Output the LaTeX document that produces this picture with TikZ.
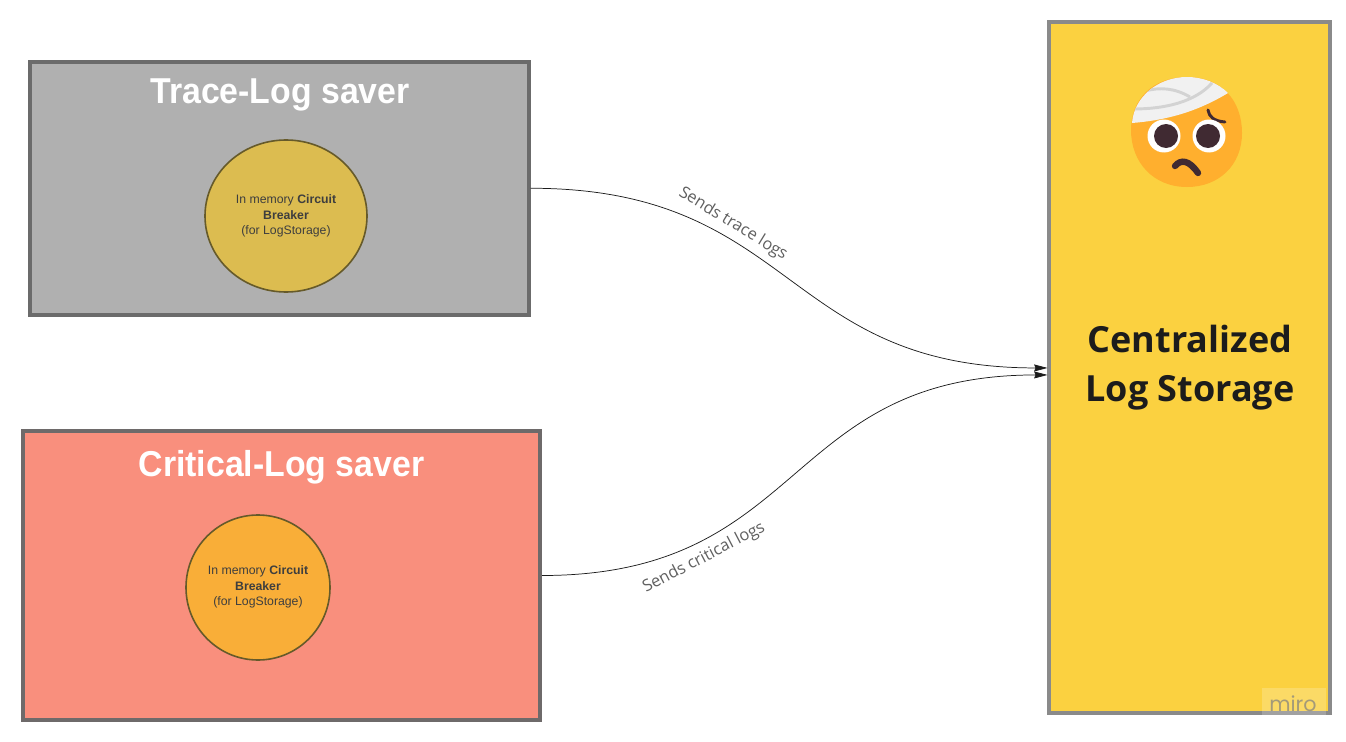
\documentclass[tikz,border=0pt]{standalone}
\usepackage{fontspec}
\setmainfont{Liberation Sans}
\newfontfamily\opensans{Open Sans}
\newfontfamily\titlefont[FakeStretch=0.94]{Liberation Sans}
\newfontfamily\wmfont{Poppins}
\usetikzlibrary{arrows.meta,calc,shapes.geometric}
\definecolor{grayfill}{HTML}{B0B0B0}
\definecolor{grayline}{HTML}{6B6B6B}
\definecolor{redfill}{HTML}{F98F7D}
\definecolor{redline}{HTML}{6E6A6A}
\definecolor{storefill}{HTML}{FBD140}
\definecolor{storeline}{HTML}{8A8A8A}
\definecolor{cbyellow}{HTML}{DCBC50}
\definecolor{cborange}{HTML}{F9AE38}
\definecolor{cbline}{HTML}{665A2A}
\definecolor{inktext}{HTML}{1C1C1C}
\definecolor{faceorange}{HTML}{FFAF2E}
\definecolor{bandage}{HTML}{F1F1F1}
\definecolor{bandline}{HTML}{D3D3D3}
\definecolor{eyedark}{HTML}{402A32}
\tikzset{
  x=0.75pt,y=-0.75pt,
  boxnode/.style={draw,rectangle,line width=3pt,inner sep=0pt},
  cbnode/.style={draw=cbline,ellipse,line width=1.2pt,inner sep=0pt,outer sep=0pt},
  boxtitle/.style={text=white,font=\titlefont\bfseries\fontsize{27}{32}\selectfont,inner sep=0pt},
  cbtext/.style={text=inktext!85,font=\fontsize{9.2}{11.6}\selectfont,align=center,inner sep=0pt},
  flow/.style={draw=inktext,line width=0.55pt,-{Stealth[length=10pt,width=5.2pt,inset=1pt]}},
  flowlabel/.style={text=inktext!70,font=\opensans\fontsize{12.3}{14}\selectfont,inner sep=0pt},
}
\begin{document}
\begin{tikzpicture}
\useasboundingbox (0,0) rectangle (1346,742);
\fill[white] (0,0) rectangle (1346,742);
\node[boxnode,draw=grayline,fill=grayfill,minimum width=374pt,minimum height=189.4pt] (trace) at (279.35,188.25) {};
\node[boxnode,draw=redline,fill=redfill,minimum width=387.75pt,minimum height=216.75pt] (critical) at (281.5,575.5) {};
\node[boxnode,draw=storeline,fill=storefill,minimum width=210.4pt,minimum height=518.5pt] (store) at (1189.75,367.35) {};
\node[boxtitle] (tracetitle) at (280,95) {Trace-Log saver};
\node[boxtitle] (crittitle) at (281.5,467) {Critical-Log saver};
\node[cbnode,fill=cbyellow,minimum width=121.5pt,minimum height=114pt] (cb1) at (286,216) {};
\node[cbtext] (cb1t) at (286,216) {In memory \textbf{Circuit}\\\textbf{Breaker}\\(for LogStorage)};
\node[cbnode,fill=cborange,minimum width=108pt,minimum height=108.75pt] (cb2) at (258,587.5) {};
\node[cbtext] (cb2t) at (258,587) {In memory \textbf{Circuit}\\\textbf{Breaker}\\(for LogStorage)};
\node[text=inktext,font=\opensans\bfseries\fontsize{27}{36.8}\selectfont,align=center,inner sep=0pt] (storetext) at (1190,368) {Centralized\\Log Storage};
\coordinate (in1) at ($(store.west)+(0,0.6)$);
\coordinate (in2) at ($(store.west)+(0,7.6)$);
\draw[flow] (trace.east) .. controls +(265,0) and +(-265,0) .. (in1);
\draw[flow] (critical.east) .. controls +(265,0) and +(-265,0) .. (in2);
\node[flowlabel,rotate=-31.5] (l1) at (733,224) {Sends trace logs};
\node[flowlabel,rotate=27.5] (l2) at (704,558) {Sends critical logs};
% emoji
\fill[faceorange] (1187,77) .. controls (1222,77) and (1242,101) .. (1242,133) .. controls (1242,165) and (1219,187) .. (1187,187) .. controls (1153,187) and (1131,162) .. (1131,130) .. controls (1131,100) and (1152,77) .. (1187,77) -- cycle;
\fill[bandage] (1132,123) .. controls (1134,97) and (1158,77) .. (1187,77) .. controls (1203,77) and (1218,83) .. (1228,93) .. controls (1200,110) and (1170,120) .. (1132,123) -- cycle;
\begin{scope}
\clip (1132,123) .. controls (1134,97) and (1158,77) .. (1187,77) .. controls (1203,77) and (1218,83) .. (1228,93) .. controls (1200,110) and (1170,120) .. (1132,123) -- cycle;
\draw[bandline,line width=2.2pt] (1133,109) .. controls (1165,109) and (1195,102) .. (1212,83);
\draw[bandline,line width=2.2pt] (1145,91) .. controls (1160,87) and (1175,88) .. (1190,97);
\end{scope}
\draw[eyedark,line width=2.2pt,line cap=round] (1208,110) .. controls (1209,117) and (1214,121) .. (1225,122);
\fill[white] (1164,136) circle[radius=16.5];
\fill[white] (1209,136) circle[radius=16.5];
\fill[eyedark] (1166,136) circle[radius=12];
\fill[eyedark] (1208,136) circle[radius=12];
\draw[eyedark,line width=4.8pt,line cap=round] (1175,166) .. controls (1181,159) and (1189,160) .. (1198,173);
% watermark
\fill[white,opacity=0.2] (1262,688) rectangle (1326,715);
\node[text=black!50,opacity=0.7,font=\wmfont\fontsize{15.5}{16}\selectfont,inner sep=0pt] (miro) at (1293,704) {miro};
\end{tikzpicture}
\end{document}
